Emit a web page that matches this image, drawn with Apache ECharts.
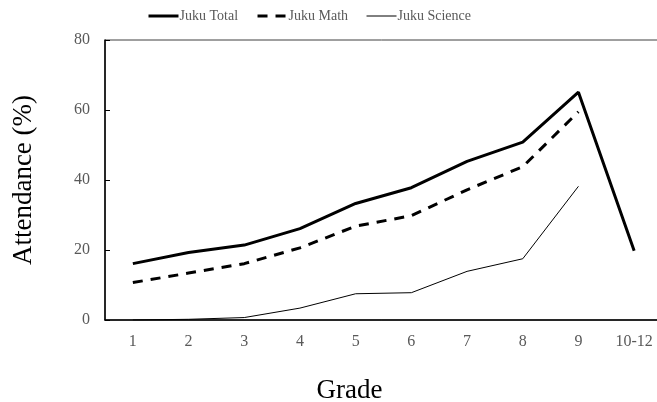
<!DOCTYPE html>
<html><head><meta charset="utf-8">
<script src="https://cdn.jsdelivr.net/npm/echarts@6/dist/echarts.min.js"></script>
<style>html,body{margin:0;padding:0;background:#fff}#c{width:657px;height:402px}</style>
</head><body><div id="c"></div>
<script>
const grades = ['1','2','3','4','5','6','7','8','9','10-12'];
const jukuTotal = [16.1, 19.3, 21.4, 26.1, 33.3, 37.8, 45.3, 50.8, 65.1, 19.8];
const jukuMath = [10.7, 13.4, 16.1, 20.6, 26.8, 29.8, 37.2, 43.8, 59.5, null];
const jukuScience = [0, 0.2, 0.7, 3.4, 7.5, 7.8, 13.9, 17.5, 38.2, null];
const yTicks = [0, 20, 40, 60, 80];

const font = '"Liberation Serif", "DejaVu Serif", serif';
const chart = echarts.init(document.getElementById('c'), null, {renderer:'canvas'});
chart.setOption({
  animation:false,
  backgroundColor:'#fff',
  legend:{
    top:4, left:142,
    itemWidth:30, itemHeight:12, itemGap:18,
    itemStyle:{opacity:0},
    textStyle:{fontFamily:font, fontSize:14, color:'#595959', padding:[0,0,0,-4]},
    data:[
      {name:'Juku Total', lineStyle:{width:3}},
      {name:'Juku Math', lineStyle:{width:3}},
      {name:'Juku Science', lineStyle:{width:1}}
    ]
  },
  grid:{left:105, top:40, width:557, height:280, show:true, borderColor:'#404040', borderWidth:1, outerBoundsMode:'none', containLabel:false},
  xAxis:{
    type:'category', data:grades, boundaryGap:true,
    name:'Grade', nameLocation:'middle', nameGap:57,
    nameTextStyle:{fontFamily:font, fontSize:27, color:'#000', padding:[0,68,0,0]},
    axisLine:{lineStyle:{color:'#000', width:1.5}},
    axisTick:{inside:true, length:5, lineStyle:{color:'#000'}},
    axisLabel:{fontFamily:font, fontSize:16, color:'#595959', margin:14}
  },
  yAxis:{
    type:'value', min:yTicks[0], max:yTicks[yTicks.length-1], interval:20,
    name:'Attendance (%)', nameLocation:'middle', nameGap:68,
    nameTextStyle:{fontFamily:font, fontSize:27, color:'#000'},
    splitLine:{show:false},
    axisLine:{show:true, lineStyle:{color:'#000', width:1.5}},
    axisTick:{show:true, inside:true, length:5, lineStyle:{color:'#000'}},
    axisLabel:{fontFamily:font, fontSize:16, color:'#595959', margin:15}
  },
  series:[
    {name:'Juku Total', type:'line', data:jukuTotal, symbol:'none', lineStyle:{color:'#000', width:3}, itemStyle:{color:'#000'}},
    {name:'Juku Math', type:'line', data:jukuMath, symbol:'none', lineStyle:{color:'#000', width:3, type:[10,8]}, itemStyle:{color:'#000'}},
    {name:'Juku Science', type:'line', data:jukuScience, symbol:'none', lineStyle:{color:'#000', width:1}, itemStyle:{color:'#000'}}
  ]
});
</script></body></html>
